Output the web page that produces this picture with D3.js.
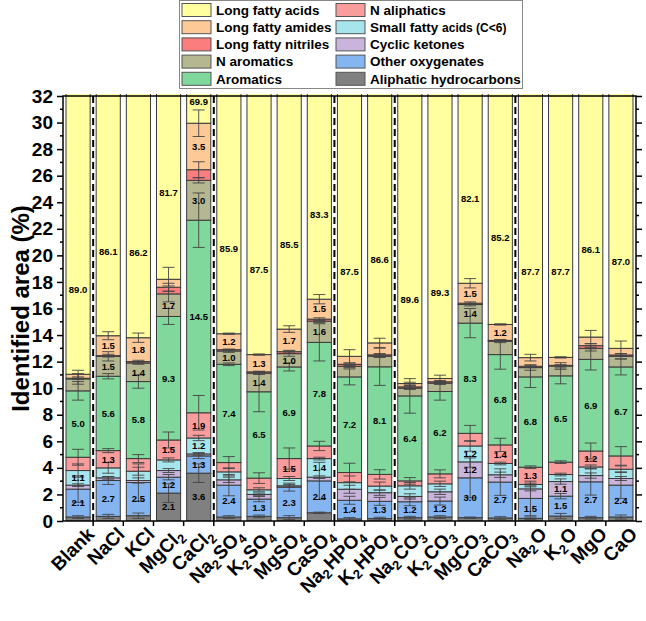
<!DOCTYPE html>
<html>
<head>
<meta charset="utf-8">
<script src="https://cdn.jsdelivr.net/npm/d3@7"></script>
<style>
  body { margin: 0; background: #fff; }
  text { font-family: Arial, "Liberation Sans", sans-serif; font-weight: bold; fill: #000; }
</style>
</head>
<body>
<svg id="chart" width="646" height="621"></svg>
<script>
const width = 646;
const height = 621;

const categories = ["Blank", "NaCl", "KCl", "MgCl2", "CaCl2", "Na2SO4", "K2SO4", "MgSO4", "CaSO4",
    "Na2HPO4", "K2HPO4", "Na2CO3", "K2CO3", "MgCO3", "CaCO3", "Na2O", "K2O", "MgO", "CaO"];

// stack order, bottom to top
const seriesNames = ["Aliphatic hydrocarbons", "Other oxygenates", "Cyclic ketones", "Small fatty acids (C<6)",
    "N aliphatics", "Aromatics", "N aromatics", "Long fatty nitriles", "Long fatty amides", "Long fatty acids"];

const aliphatic   = [0.3, 0.35, 0.4, 2.1, 3.6, 0.3, 0.35, 0.25, 0.62, 0.16, 0.18, 0.25, 0.3, 0.25, 0.23, 0.2, 0.37, 0.25, 0.3];
const oxygenates  = [2.1, 2.7, 2.5, 1.2, 1.3, 2.4, 1.3, 2.3, 2.4, 1.4, 1.3, 1.2, 1.2, 3.0, 2.7, 1.5, 1.5, 2.7, 2.4];
const ketones     = [0.3, 0.2, 0.15, 0.5, 0.15, 0.4, 0.35, 0.1, 0.28, 0.83, 0.65, 0.4, 0.7, 1.2, 0.55, 0.72, 1.1, 0.47, 0.5];
const smallAcids  = [1.1, 0.75, 0.7, 0.8, 1.2, 0.6, 0.35, 0.55, 1.4, 0.5, 0.5, 0.8, 0.6, 1.2, 0.85, 0.33, 0.53, 0.65, 0.7];
const nAliphatics = [1.0, 1.3, 0.95, 1.5, 1.9, 0.7, 0.88, 1.5, 0.95, 0.76, 0.88, 0.37, 0.75, 0.95, 1.4, 1.3, 0.93, 1.2, 1.0];
const aromatics   = [5.0, 5.6, 5.8, 9.3, 14.5, 7.4, 6.5, 6.9, 7.8, 7.2, 8.1, 6.4, 6.2, 8.3, 6.8, 6.8, 6.5, 6.9, 6.7];
const nAromatics  = [0.9, 1.5, 1.4, 1.7, 3.0, 1.0, 1.4, 1.0, 1.6, 0.8, 0.8, 0.58, 0.63, 1.4, 1.0, 0.7, 0.74, 0.83, 0.8];
const nitriles    = [0.05, 0.05, 0.1, 0.5, 0.8, 0.1, 0.1, 0.15, 0.15, 0.15, 0.1, 0.1, 0.1, 0.1, 0.07, 0.1, 0.05, 0.2, 0.1];
const amides      = [0.3, 1.5, 1.8, 0.6, 3.5, 1.2, 1.3, 1.7, 1.5, 0.6, 0.9, 0.25, 0.25, 1.5, 1.2, 0.65, 0.6, 0.65, 0.5];
const longAcids   = [89.0, 86.1, 86.2, 81.7, 69.9, 85.9, 87.5, 85.5, 83.3, 87.5, 86.6, 89.6, 89.3, 82.1, 85.2, 87.7, 87.7, 86.1, 87.0];

// standard deviations (the long fatty acid bars run off the top, so none there)
const errAliphatic   = [0.1, 0.15, 0.2, 0.7, 0.7, 0.1, 0.1, 0.15, 0.05, 0.1, 0.1, 0.1, 0.1, 0.05, 0.1, 0.1, 0.2, 0.1, 0.15];
const errOxygenates  = [1.0, 0.3, 1.4, 0.2, 0.2, 0.8, 0.2, 0.3, 1.4, 0.3, 0.3, 0.3, 0.3, 1.5, 1.0, 1.3, 0.2, 1.0, 1.0];
const errKetones     = [0.1, 0.1, 0.2, 0.15, 0.1, 0.2, 0.1, 0.1, 0.1, 0.3, 0.2, 0.2, 0.2, 0.4, 0.2, 0.15, 0.2, 0.2, 0.15];
const errSmallAcids  = [0.5, 0.4, 0.3, 0.15, 0.2, 0.3, 0.15, 0.15, 0.1, 0.5, 0.3, 0.25, 0.2, 0.4, 0.1, 0.1, 0.1, 0.15, 0.25];
const errNAliphatics = [0.6, 0.15, 0.3, 0.6, 1.3, 0.45, 0.4, 0.8, 0.35, 0.7, 0.35, 0.25, 0.3, 0.6, 0.5, 0.1, 0.1, 0.6, 0.7];
const errAromatics   = [0.7, 0.2, 0.5, 0.6, 2.05, 0.1, 1.5, 0.3, 1.4, 0.6, 1.4, 1.3, 0.65, 1.1, 1.1, 0.8, 0.6, 0.8, 0.6];
const errNAromatics  = [0.4, 0.35, 0.1, 0.6, 0.2, 0.1, 0.1, 0.2, 0.1, 0.1, 0.1, 0.1, 0.1, 0.1, 0.1, 0.2, 0.25, 0.2, 0.2];
const errNitriles    = [0.1, 0.1, 0.1, 0.3, 0.6, 0.05, 0.05, 0.1, 0.1, 0.1, 0.1, 0.1, 0.1, 0.1, 0.05, 0.1, 0.05, 0.15, 0.1];
const errAmides      = [0.3, 0.3, 0.35, 0.9, 1.0, 0.05, 0.05, 0.25, 0.35, 0.5, 0.35, 0.1, 0.25, 0.35, 0.05, 0.25, 0.05, 0.5, 0.55];

// which bars carry a value label, per series
const labelAliphatic   = ["MgCl2", "CaCl2"];
const labelOxygenates  = categories;
const labelKetones     = ["MgCO3", "K2O"];
const labelSmallAcids  = ["Blank", "CaCl2", "CaSO4", "MgCO3"];
const labelNAliphatics = ["NaCl", "MgCl2", "CaCl2", "MgSO4", "CaCO3", "Na2O", "MgO"];
const labelAromatics   = categories;
const labelNAromatics  = ["NaCl", "KCl", "MgCl2", "CaCl2", "Na2SO4", "K2SO4", "MgSO4", "CaSO4", "MgCO3"];
const labelNitriles    = [];
const labelAmides      = ["NaCl", "KCl", "CaCl2", "Na2SO4", "K2SO4", "MgSO4", "CaSO4", "MgCO3", "CaCO3"];
const labelLongAcids   = categories;

// where the long fatty acid labels sit (axis units)
const longAcidLabelAt = [17.4, 20.3, 20.2, 24.7, 31.6, 20.5, 18.9, 20.8, 23.1, 18.8, 19.7, 16.7, 17.2, 24.3, 21.3, 18.8, 18.8, 20.4, 19.5];

// dashed separators after these bars
const groupEnds = ["Blank", "CaCl2", "CaSO4", "K2HPO4", "CaCO3"];

const values = [aliphatic, oxygenates, ketones, smallAcids, nAliphatics, aromatics, nAromatics, nitriles, amides, longAcids];
const errors = [errAliphatic, errOxygenates, errKetones, errSmallAcids, errNAliphatics, errAromatics, errNAromatics, errNitriles, errAmides, null];
const labels = [labelAliphatic, labelOxygenates, labelKetones, labelSmallAcids, labelNAliphatics, labelAromatics, labelNAromatics, labelNitriles, labelAmides, labelLongAcids];

const colors = ["#808080", "#85b5f0", "#c9b4dc", "#a6e5eb", "#f89c9c", "#80d89c", "#b4b78f", "#fb7d7d", "#fdc996", "#ffff9f"];

const margin = { top: 96, right: 10, bottom: 100, left: 63 };
const plotBottom = height - margin.bottom;

const svg = d3.select("#chart");

const table = categories.map((c, i) => {
    const row = { cat: c };
    seriesNames.forEach((s, k) => row[s] = values[k][i]);
    return row;
});
const stacked = d3.stack().keys(seriesNames)(table);

const x = d3.scaleBand()
    .domain(categories)
    .range([margin.left, width - margin.right])
    .paddingInner(0.2)
    .paddingOuter(0.1);

const y = d3.scaleLinear()
    .domain([0, 32])
    .range([plotBottom, margin.top]);

svg.append("defs").append("clipPath").attr("id", "plotClip")
    .append("rect")
    .attr("x", margin.left).attr("y", margin.top - 2)
    .attr("width", width - margin.left - margin.right)
    .attr("height", plotBottom - margin.top + 2);

const plot = svg.append("g").attr("clip-path", "url(#plotClip)");

// bars
plot.selectAll("g.series")
    .data(stacked)
    .enter().append("g")
    .attr("class", "series")
    .attr("fill", (d, k) => colors[k])
    .selectAll("rect")
    .data(d => d)
    .enter().append("rect")
    .attr("x", d => x(d.data.cat))
    .attr("width", x.bandwidth())
    .attr("y", d => y(d[1]))
    .attr("height", d => y(d[0]) - y(d[1]))
    .attr("stroke", "#3a3a3a")
    .attr("stroke-width", 1);

// dashed separators
plot.selectAll("line.sep")
    .data(groupEnds)
    .enter().append("line")
    .attr("class", "sep")
    .attr("x1", d => x(d) + x.step() * 0.9)
    .attr("x2", d => x(d) + x.step() * 0.9)
    .attr("y1", margin.top)
    .attr("y2", plotBottom)
    .attr("stroke", "#000")
    .attr("stroke-width", 2)
    .attr("stroke-dasharray", "7,4");

// error bars
const errG = plot.append("g");
stacked.forEach((layer, k) => {
    if (!errors[k]) return;
    layer.forEach((d, i) => {
        const cx = x(d.data.cat) + x.bandwidth() / 2;
        const e = errors[k][i];
        const yTop = y(d[1] + e), yBot = y(Math.max(0, d[1] - e));
        [[cx, yTop, cx, yBot], [cx - 6, yTop, cx + 6, yTop], [cx - 6, yBot, cx + 6, yBot]].forEach(s => {
            errG.append("line")
                .attr("x1", s[0]).attr("y1", s[1]).attr("x2", s[2]).attr("y2", s[3])
                .attr("stroke", "#444").attr("stroke-width", 0.9);
        });
    });
});

// value labels
const labG = plot.append("g").attr("font-size", 9.5).attr("text-anchor", "middle");
stacked.forEach((layer, k) => {
    layer.forEach((d, i) => {
        if (!labels[k].includes(d.data.cat)) return;
        const v = values[k][i];
        const at = k === seriesNames.length - 1 ? longAcidLabelAt[i] : (d[0] + d[1]) / 2;
        labG.append("text")
            .attr("x", x(d.data.cat) + x.bandwidth() / 2)
            .attr("y", y(at))
            .attr("dy", "0.35em")
            .text(v.toFixed(1));
    });
});

// axes
const yTicks = d3.range(0, 33, 2);
const axes = svg.append("g").attr("class", "axes");

const gl = axes.append("g").attr("transform", `translate(${margin.left},0)`)
    .call(d3.axisLeft(y).tickValues(yTicks).tickSize(6).tickPadding(4));
gl.selectAll("text").attr("font-size", 19).attr("font-family", "Arial, 'Liberation Sans', sans-serif").attr("font-weight", "bold");
gl.selectAll("line.minor").data(d3.range(1, 32, 2)).enter().append("line")
    .attr("class", "minor")
    .attr("x1", -3).attr("x2", 0).attr("y1", d => y(d)).attr("y2", d => y(d));

const gr = axes.append("g").attr("transform", `translate(${width - margin.right},0)`)
    .call(d3.axisRight(y).tickValues(yTicks).tickSize(6).tickFormat(""));
gr.selectAll("line.minor").data(d3.range(1, 32, 2)).enter().append("line")
    .attr("class", "minor")
    .attr("x1", 0).attr("x2", 3).attr("y1", d => y(d)).attr("y2", d => y(d));

axes.selectAll(".domain").remove();
axes.selectAll("line").attr("stroke", "#000").attr("stroke-width", 1.5);

// frame
svg.append("rect")
    .attr("x", margin.left).attr("y", margin.top)
    .attr("width", width - margin.left - margin.right)
    .attr("height", plotBottom - margin.top)
    .attr("fill", "none").attr("stroke", "#000").attr("stroke-width", 1.5);

// bottom ticks between bars
svg.append("g").selectAll("line")
    .data(categories.slice(0, -1))
    .enter().append("line")
    .attr("x1", d => x(d) + x.step() * 0.9)
    .attr("x2", d => x(d) + x.step() * 0.9)
    .attr("y1", plotBottom).attr("y2", plotBottom + 5)
    .attr("stroke", "#000").attr("stroke-width", 1.5);

// x labels, digits as subscripts
const xl = svg.append("g").attr("font-size", 19).attr("text-anchor", "end");
categories.forEach(c => {
    const t = xl.append("text")
        .attr("transform", `translate(${x(c) + x.bandwidth() / 2 + 8},${plotBottom + 5}) rotate(-45)`)
        .attr("dy", "0.7em");
    c.match(/[A-Za-z]+|\d+/g).forEach(part => {
        if (/\d/.test(part)) {
            t.append("tspan").attr("font-size", 13).attr("dy", 4).text(part);
            t.append("tspan").attr("dy", -4).text("\u200a");
        } else {
            t.append("tspan").text(part);
        }
    });
});

// y title
svg.append("text")
    .attr("transform", `translate(29,${(margin.top + plotBottom) / 2}) rotate(-90)`)
    .attr("text-anchor", "middle")
    .attr("font-size", 24)
    .text("Identified area (%)");

// legend
const legendCols = [
    ["Long fatty acids", "Long fatty amides", "Long fatty nitriles", "N aromatics", "Aromatics"],
    ["N aliphatics", "Small fatty acids (C<6)", "Cyclic ketones", "Other oxygenates", "Aliphatic hydrocarbons"]
];
const lg = svg.append("g");
lg.append("rect").attr("x", 179.5).attr("y", 0.5).attr("width", 343).attr("height", 88)
    .attr("fill", "#fff").attr("stroke", "#888").attr("stroke-width", 1);
legendCols.forEach((col, ci) => {
    const x0 = ci === 0 ? 182 : 336;
    col.forEach((name, ri) => {
        const cy = 10 + ri * 17.2;
        lg.append("rect").attr("x", x0).attr("y", cy - 6.5).attr("width", 29).attr("height", 13)
            .attr("fill", colors[seriesNames.indexOf(name)]).attr("stroke", "#555").attr("stroke-width", 1);
        const t = lg.append("text").attr("x", x0 + 34).attr("y", cy).attr("dy", "0.36em").attr("font-size", 13.5);
        if (name.startsWith("Small")) {
            t.append("tspan").text("Small fatty ");
            t.append("tspan").attr("font-size", 12).text("acids (C<6)");
        } else {
            t.text(name);
        }
    });
});
</script>
</body>
</html>
